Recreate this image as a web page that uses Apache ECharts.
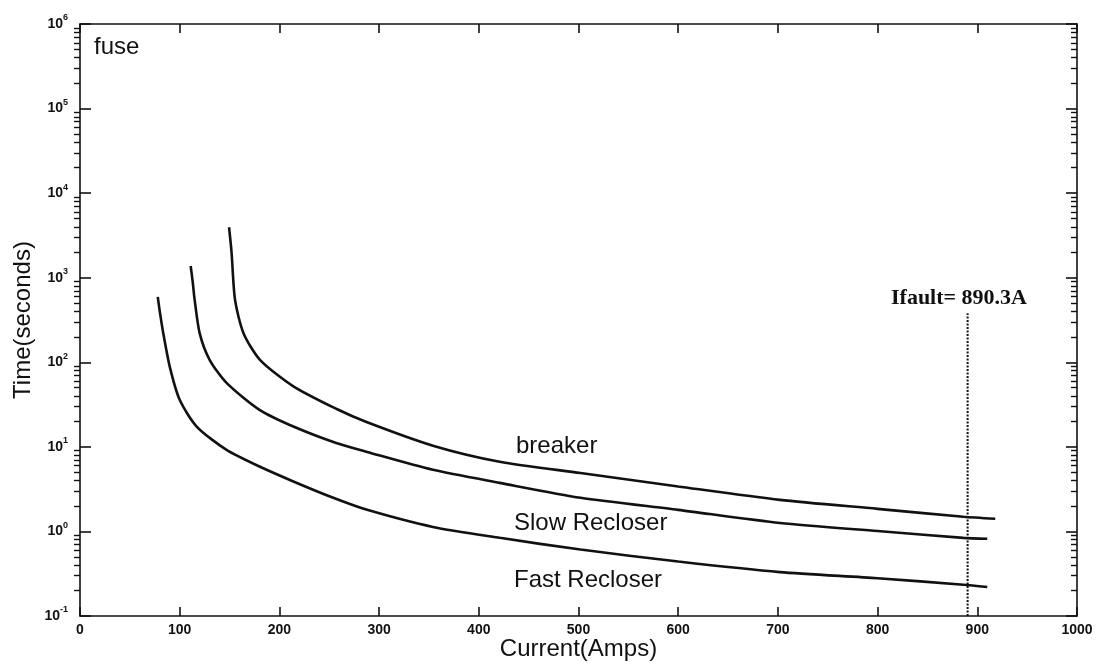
<!DOCTYPE html>
<html>
<head>
<meta charset="utf-8">
<script src="https://cdn.jsdelivr.net/npm/echarts@6/dist/echarts.min.js"></script>
<style>
  html, body { margin: 0; padding: 0; background: #fff; }
  #chart { width: 1107px; height: 669px; }
</style>
</head>
<body>
<div id="chart"></div>
<script>
// curve points: [current (A), time (s)]
const fastRecloser = [
  [78, 593], [80, 400], [83.5, 221], [90, 89], [100, 36], [117, 17.4], [147, 9.2],
  [180, 5.85], [214, 3.9], [254, 2.5], [288, 1.8], [354, 1.13], [421, 0.84],
  [502, 0.61], [600, 0.44], [702, 0.33], [800, 0.28], [886, 0.234], [910, 0.22]
];
const slowRecloser = [
  [111, 1377], [113, 900], [115, 547], [120, 221], [130, 107], [147, 57], [180, 27.4],
  [214, 17.4], [257, 11.1], [288, 8.7], [354, 5.35], [421, 3.75], [502, 2.5],
  [600, 1.8], [702, 1.26], [800, 1.01], [886, 0.84], [910, 0.82]
];
const breaker = [
  [149.5, 3950], [152, 2000], [155.5, 547], [164, 221], [180.5, 107], [214, 52],
  [257.5, 28], [288, 19.5], [354, 10.3], [421, 6.65], [502, 4.9], [600, 3.4],
  [702, 2.36], [800, 1.85], [886, 1.49], [918, 1.41]
];
const faultCurrent = 890.3;
const faultLine = [[faultCurrent, 0.1], [faultCurrent, 380]];

const decades = [0.1, 1, 10, 100, 1000, 10000, 100000, 1000000];
const mantissas = [2, 3, 4, 5, 6, 7, 8, 9];

// minor log ticks 2..9 of each decade
const minorTicks = [];
decades.slice(0, -1).forEach(d => mantissas.forEach(m => minorTicks.push(+(d * m).toPrecision(3))));

const chart = echarts.init(document.getElementById('chart'));

const font = '"Liberation Sans", Arial, sans-serif';
const black = '#111';

const expLabel = v => {
  const e = Math.round(Math.log10(v));
  return '{b|10}{e|' + e + '}';
};

const curve = (name, data) => ({
  name: name,
  type: 'line',
  data: data,
  xAxisIndex: 0,
  yAxisIndex: 0,
  showSymbol: false,
  smooth: 0.25,
  lineStyle: { color: black, width: 2.6 },
  z: 3
});

const option = {
  backgroundColor: '#fff',
  animation: false,
  grid: { left: 80, right: 30, top: 24, bottom: 53, outerBoundsMode: 'none', containLabel: false },
  xAxis: [
    {
      type: 'value', min: 0, max: 1000, interval: 100,
      name: 'Current(Amps)', nameLocation: 'middle', nameGap: 21, nameMoveOverlap: false,
      nameTextStyle: { fontFamily: font, fontSize: 24, color: black, verticalAlign: 'top' },
      axisLine: { lineStyle: { color: black, width: 1.6 } },
      axisTick: { inside: true, length: 9, lineStyle: { color: black, width: 1.6 } },
      axisLabel: { fontFamily: font, fontSize: 14, fontWeight: 'bold', color: black, margin: 7, formatter: v => String(v) },
      splitLine: { show: false }
    },
    {
      type: 'value', min: 0, max: 1000, interval: 100, position: 'top',
      axisLine: { lineStyle: { color: black, width: 1.6 } },
      axisTick: { inside: true, length: 9, lineStyle: { color: black, width: 1.6 } },
      axisLabel: { show: false },
      splitLine: { show: false }
    }
  ],
  yAxis: [
    {
      type: 'log', logBase: 10, min: 0.1, max: 1000000, splitNumber: 7,
      name: 'Time(seconds)', nameLocation: 'middle', nameGap: 45, nameMoveOverlap: false,
      nameTextStyle: { fontFamily: font, fontSize: 24, color: black },
      axisLine: { lineStyle: { color: black, width: 1.6 } },
      axisTick: { inside: true, length: 11, lineStyle: { color: black, width: 1.6 } },
      axisLabel: {
        formatter: expLabel, margin: 12,
        rich: {
          b: { fontFamily: font, fontSize: 14, fontWeight: 'bold', color: black },
          e: { fontFamily: font, fontSize: 9, fontWeight: 'bold', color: black, verticalAlign: 'top', padding: [0, 0, 12, 0] }
        }
      },
      splitLine: { show: false }
    },
    {
      type: 'log', logBase: 10, min: 0.1, max: 1000000,
      axisLine: { show: false },
      axisTick: { inside: true, length: 6, customValues: minorTicks, lineStyle: { color: black, width: 1.4 } },
      axisLabel: { show: false },
      splitLine: { show: false }
    },
    {
      type: 'log', logBase: 10, min: 0.1, max: 1000000, splitNumber: 7, position: 'right',
      axisLine: { show: true, lineStyle: { color: black, width: 1.6 } },
      axisTick: { inside: true, length: 11, lineStyle: { color: black, width: 1.6 } },
      axisLabel: { show: false },
      splitLine: { show: false }
    },
    {
      type: 'log', logBase: 10, min: 0.1, max: 1000000, position: 'right',
      axisLine: { show: false },
      axisTick: { inside: true, length: 6, customValues: minorTicks, lineStyle: { color: black, width: 1.4 } },
      axisLabel: { show: false },
      splitLine: { show: false }
    }
  ],
  series: [
    curve('Fast Recloser', fastRecloser),
    curve('Slow Recloser', slowRecloser),
    curve('breaker', breaker),
    {
      name: 'Ifault',
      type: 'line',
      data: faultLine,
      showSymbol: false,
      lineStyle: { color: black, width: 2, type: [2, 1.5] },
      z: 2
    }
  ],
  graphic: [
    { type: 'text', left: 94, top: 35, style: { text: 'fuse', font: '24px ' + font, fill: black } },
    { type: 'text', left: 516, top: 434, style: { text: 'breaker', font: '24px ' + font, fill: black } },
    { type: 'text', left: 514, top: 511, style: { text: 'Slow Recloser', font: '24px ' + font, fill: black } },
    { type: 'text', left: 514, top: 568, style: { text: 'Fast Recloser', font: '24px ' + font, fill: black } },
    {
      type: 'text', left: 891, top: 287,
      style: { text: 'Ifault= ' + faultCurrent + 'A', font: 'bold 22px "Liberation Serif", "Times New Roman", serif', fill: black }
    }
  ]
};

chart.setOption(option);
</script>
</body>
</html>
